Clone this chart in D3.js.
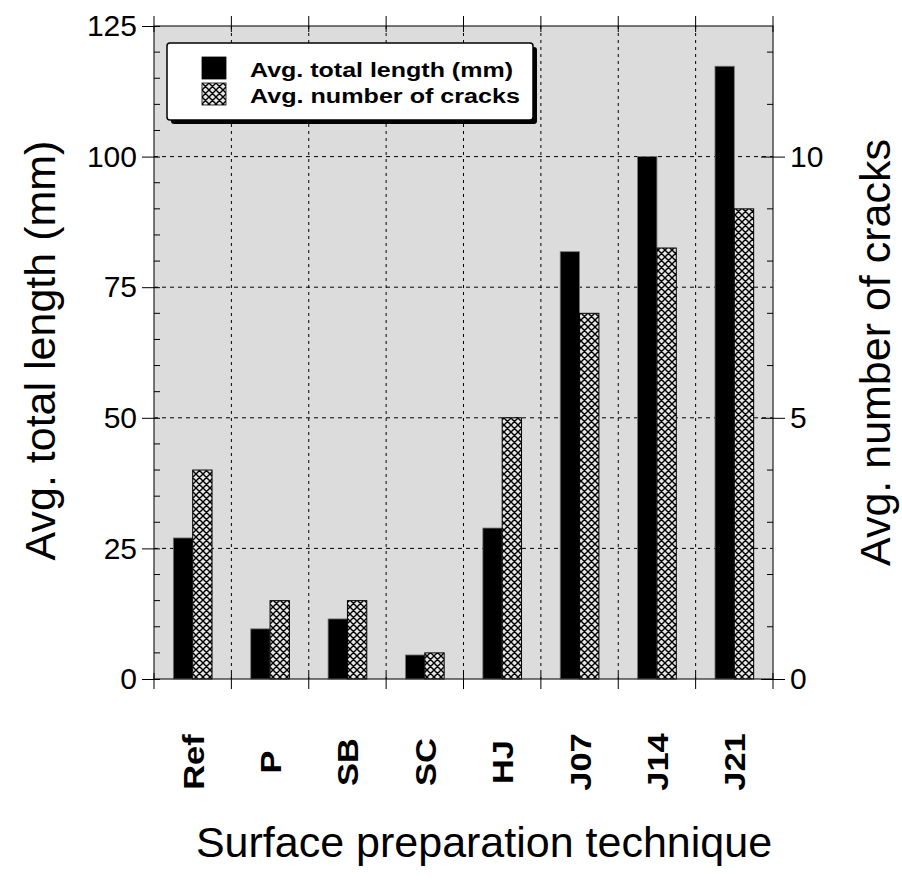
<!DOCTYPE html>
<html>
<head>
<meta charset="utf-8">
<script src="https://cdn.jsdelivr.net/npm/d3@7"></script>
<style>
  body { margin: 0; background: #fff; }
  text { font-family: "Liberation Sans", Arial, sans-serif; }
</style>
</head>
<body>
<div id="container"></div>
<script>
const categories = ["Ref", "P", "SB", "SC", "HJ", "J07", "J14", "J21"];
const lengthVals = [27, 9.6, 11.5, 4.6, 28.9, 81.8, 100, 117.3];
const crackVals = [4.0, 1.5, 1.5, 0.5, 5.0, 7.0, 8.25, 9.0];
const leftTicks = [0, 25, 50, 75, 100, 125];
const rightTicks = [0, 5, 10];
const seriesNames = ["Avg. total length (mm)", "Avg. number of cracks"];

const width = 902, height = 884;
const margin = {top: 26, right: 129, bottom: 205, left: 154};
const plotW = width - margin.left - margin.right;
const plotH = height - margin.top - margin.bottom;

const svg = d3.select('#container').append('svg')
  .attr('width', width)
  .attr('height', height);

const defs = svg.append('defs');
const pat = defs.append('pattern')
  .attr('id', 'hatch')
  .attr('patternUnits', 'userSpaceOnUse')
  .attr('width', 7)
  .attr('height', 7);
pat.append('rect').attr('width', 7).attr('height', 7).attr('fill', '#e6e6e6');
pat.append('path')
  .attr('d', 'M0,0 L7,7 M7,0 L0,7 M-1,6 L1,8 M6,-1 L8,1 M-1,1 L1,-1 M6,8 L8,6')
  .attr('stroke', '#000')
  .attr('stroke-width', 1.4);

const g = svg.append('g').attr('transform', `translate(${margin.left},${margin.top})`);

const x = d3.scaleBand().domain(categories).range([0, plotW]);
const x1 = d3.scaleBand().domain(['len', 'cracks']).range([x.bandwidth() * 0.25, x.bandwidth() * 0.75]);
const yL = d3.scaleLinear().domain([0, 125]).range([plotH, 0]);
const yR = d3.scaleLinear().domain([0, 12.5]).range([plotH, 0]);

// plot background
g.append('rect')
  .attr('width', plotW)
  .attr('height', plotH)
  .attr('fill', '#dcdcdc');

// grid lines
g.selectAll('.hgrid')
  .data([25, 50, 75, 100])
  .enter().append('line')
  .attr('class', 'hgrid')
  .attr('x1', 0).attr('x2', plotW)
  .attr('y1', d => yL(d)).attr('y2', d => yL(d))
  .attr('stroke', '#000')
  .attr('stroke-width', 1)
  .attr('stroke-dasharray', '4,4');

const bounds = categories.slice(1).map(c => x(c));
g.selectAll('.vgrid')
  .data(bounds)
  .enter().append('line')
  .attr('class', 'vgrid')
  .attr('x1', d => d).attr('x2', d => d)
  .attr('y1', 0).attr('y2', plotH)
  .attr('stroke', '#000')
  .attr('stroke-width', 1)
  .attr('stroke-dasharray', '3,4');

// bars
g.selectAll('.barL')
  .data(categories)
  .enter().append('rect')
  .attr('class', 'barL')
  .attr('x', d => x(d) + x1('len'))
  .attr('width', x1.bandwidth())
  .attr('y', (d, i) => yL(lengthVals[i]))
  .attr('height', (d, i) => plotH - yL(lengthVals[i]))
  .attr('fill', '#000')
  .attr('stroke', '#777')
  .attr('stroke-width', 0.8);

g.selectAll('.barC')
  .data(categories)
  .enter().append('rect')
  .attr('class', 'barC')
  .attr('x', d => x(d) + x1('cracks'))
  .attr('width', x1.bandwidth())
  .attr('y', (d, i) => yR(crackVals[i]))
  .attr('height', (d, i) => plotH - yR(crackVals[i]))
  .attr('fill', 'url(#hatch)')
  .attr('stroke', '#000')
  .attr('stroke-width', 1);

// frame
g.append('rect')
  .attr('width', plotW)
  .attr('height', plotH)
  .attr('fill', 'none')
  .attr('stroke', '#222')
  .attr('stroke-width', 1.2);

// left axis
const leftAxis = d3.axisLeft(yL).tickValues(leftTicks).tickSize(12).tickPadding(5);
const la = g.append('g').call(leftAxis);
la.select('.domain').remove();
la.selectAll('.tick line').attr('x2', -12).attr('x1', 6);
la.selectAll('.tick text').attr('font-size', 30).attr('fill', '#000').attr('x', -17);
g.append('g').selectAll('line')
  .data(d3.range(0, 126, 5).filter(v => v % 25 !== 0))
  .enter().append('line')
  .attr('x1', 0).attr('x2', 6)
  .attr('y1', d => yL(d)).attr('y2', d => yL(d))
  .attr('stroke', '#000');

// right axis
const rightAxis = d3.axisRight(yR).tickValues(rightTicks).tickSize(12).tickPadding(5);
const ra = g.append('g').attr('transform', `translate(${plotW},0)`).call(rightAxis);
ra.select('.domain').remove();
ra.selectAll('.tick line').attr('x1', -12).attr('x2', 12);
ra.selectAll('.tick text').attr('font-size', 30).attr('fill', '#000').attr('x', 17);
g.append('g').attr('transform', `translate(${plotW},0)`).selectAll('line')
  .data(d3.range(1, 13).filter(v => v % 5 !== 0))
  .enter().append('line')
  .attr('x1', -6).attr('x2', 0)
  .attr('y1', d => yR(d)).attr('y2', d => yR(d))
  .attr('stroke', '#000');

// top & bottom boundary ticks
const allBounds = [0, ...bounds, plotW];
g.append('g').selectAll('line')
  .data(allBounds)
  .enter().append('line')
  .attr('x1', d => d).attr('x2', d => d)
  .attr('y1', -10).attr('y2', 6)
  .attr('stroke', '#000');
g.append('g').selectAll('line')
  .data(allBounds)
  .enter().append('line')
  .attr('x1', d => d).attr('x2', d => d)
  .attr('y1', plotH - 6).attr('y2', plotH + 10)
  .attr('stroke', '#000');

// category labels (slightly stretched along the text like the original)
g.selectAll('.catLabel')
  .data(categories)
  .enter().append('text')
  .attr('class', 'catLabel')
  .attr('transform', d => `translate(${x(d) + x.bandwidth() / 2 + 11},${plotH + 83}) rotate(-90) scale(1.15,1)`)
  .attr('text-anchor', 'middle')
  .attr('font-size', 30)
  .attr('font-weight', 'bold')
  .text(d => d);

// axis titles
svg.append('text')
  .attr('transform', `translate(55,${margin.top + plotH / 2 - 2}) rotate(-90)`)
  .attr('text-anchor', 'middle')
  .attr('font-size', 43)
  .text('Avg. total length (mm)');

svg.append('text')
  .attr('transform', `translate(890,${margin.top + plotH / 2}) rotate(-90)`)
  .attr('text-anchor', 'middle')
  .attr('font-size', 43)
  .text('Avg. number of cracks');

svg.append('text')
  .attr('x', 484)
  .attr('y', 857)
  .attr('text-anchor', 'middle')
  .attr('font-size', 43)
  .text('Surface preparation technique');

// legend
const lg = svg.append('g').attr('transform', 'translate(167,43)');
lg.append('rect')
  .attr('x', 4).attr('y', 4)
  .attr('width', 366).attr('height', 77)
  .attr('rx', 3)
  .attr('fill', '#000');
lg.append('rect')
  .attr('width', 366).attr('height', 77)
  .attr('rx', 3)
  .attr('fill', '#fff')
  .attr('stroke', '#000')
  .attr('stroke-width', 1.5);
const fills = ['#000', 'url(#hatch)'];
const legendLens = [263, 270];
const items = lg.selectAll('.item')
  .data(seriesNames)
  .enter().append('g')
  .attr('transform', (d, i) => `translate(35,${14 + i * 26})`);
items.append('rect')
  .attr('width', 24).attr('height', 22)
  .attr('fill', (d, i) => fills[i])
  .attr('stroke', '#000')
  .attr('stroke-width', 0.8);
items.append('text')
  .attr('x', 48).attr('y', 20)
  .attr('font-size', 20)
  .attr('font-weight', 'bold')
  .attr('textLength', (d, i) => legendLens[i])
  .attr('lengthAdjust', 'spacingAndGlyphs')
  .text(d => d);
</script>
</body>
</html>
